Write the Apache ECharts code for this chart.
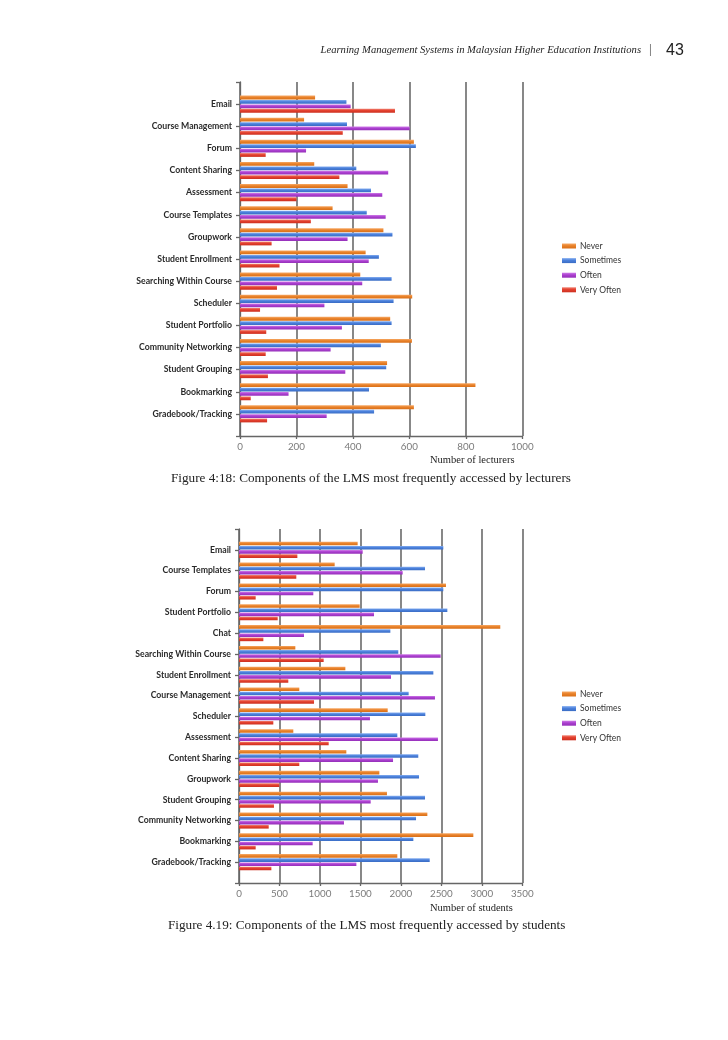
<!DOCTYPE html>
<html><head><meta charset="utf-8">
<script src="https://cdn.jsdelivr.net/npm/echarts@6/dist/echarts.min.js"></script>
<style>html,body{margin:0;padding:0;background:#fff}#c{width:728px;height:1040px}</style>
</head><body><div id="c"></div>
<script>
// ---------- Figure 4:18 (lecturers) ----------
const lecturerCategories = ['Email','Course Management','Forum','Content Sharing','Assessment','Course Templates','Groupwork','Student Enrollment','Searching Within Course','Scheduler','Student Portfolio','Community Networking','Student Grouping','Bookmarking','Gradebook/Tracking'];
const lecturerNever      = [266,227,616,263,381,328,508,445,426,610,532,609,521,834,616];
const lecturerSometimes  = [377,379,623,412,464,449,540,492,537,544,537,499,518,457,475];
const lecturerOften      = [392,601,234,525,504,516,381,456,433,299,361,321,373,172,307];
const lecturerVeryOften  = [549,364,91,352,200,251,112,140,131,71,93,91,99,38,96];
const lecturerTicks      = [0,200,400,600,800,1000];

// ---------- Figure 4.19 (students) ----------
const studentCategories = ['Email','Course Templates','Forum','Student Portfolio','Chat','Searching Within Course','Student Enrollment','Course Management','Scheduler','Assessment','Content Sharing','Groupwork','Student Grouping','Community Networking','Bookmarking','Gradebook/Tracking'];
const studentNever      = [1466,1182,2557,1491,3228,696,1314,745,1837,671,1326,1734,1828,2327,2895,1956];
const studentSometimes  = [2524,2298,2524,2574,1870,1968,2401,2096,2302,1956,2215,2224,2298,2187,2154,2356];
const studentOften      = [1528,2022,918,1668,803,2491,1878,2421,1618,2458,1903,1717,1627,1297,910,1450];
const studentVeryOften  = [721,708,206,478,301,1046,609,927,424,1108,745,498,432,367,206,400];
const studentTicks      = [0,500,1000,1500,2000,2500,3000,3500];

const seriesNames = ['Never','Sometimes','Often','Very Often'];
const baseColors = [['#f6a865','#e9822a','#d96f18'],['#86aef0','#4a80db','#3a6cc4'],['#cf7be8','#ab3fd0','#9430b8'],['#f08070','#e4402e','#cc3020']];

function grad(c){
  return new echarts.graphic.LinearGradient(0,0,0,1,[{offset:0,color:c[0]},{offset:0.45,color:c[1]},{offset:1,color:c[2]}]);
}
function pad(arr){ return ['-'].concat(arr).concat(['-']); }

const chart = echarts.init(document.getElementById('c'), null, {renderer:'canvas'});

function valueAxis(gi, max, interval){
  return {
    type:'value', gridIndex:gi, min:0, max:max, interval:interval,
    axisLine:{show:true, lineStyle:{color:'#666', width:1.3}},
    axisTick:{show:true, length:3, lineStyle:{color:'#666', width:1.3}},
    splitLine:{show:true, lineStyle:{color:'#6a6a6a', width:1.6}},
    axisLabel:{color:'#7a7a7a', fontFamily:'Lato', fontSize:9.8, margin:6, formatter:function(v){return String(v);}}
  };
}
function catAxis(gi, cats){
  return {
    type:'category', gridIndex:gi, inverse:true, boundaryGap:false,
    data:[''].concat(cats).concat(['']),
    axisLine:{show:true, lineStyle:{color:'#666', width:1.3}},
    axisTick:{show:true, length:4, interval:0, lineStyle:{color:'#666', width:1.3}},
    splitLine:{show:false},
    axisLabel:{interval:0, color:'#2a2a2a', fontFamily:'Lato', fontWeight:'bold', fontSize:8.7, margin:8}
  };
}

const lecturerData = [lecturerNever, lecturerSometimes, lecturerOften, lecturerVeryOften];
const studentData  = [studentNever, studentSometimes, studentOften, studentVeryOften];

const series = [];
lecturerData.forEach((d,i)=>{
  series.push({type:'bar', name:seriesNames[i], xAxisIndex:0, yAxisIndex:0, data:pad(d),
    barWidth:3.8, barGap:'16%', itemStyle:{color:grad(baseColors[i])}, silent:true, animation:false});
});
studentData.forEach((d,i)=>{
  series.push({type:'bar', name:seriesNames[i], xAxisIndex:1, yAxisIndex:1, data:pad(d),
    barWidth:3.6, barGap:'16%', itemStyle:{color:grad(baseColors[i])}, silent:true, animation:false});
});

const legendCommon = {
  orient:'vertical', left:557, itemWidth:14, itemHeight:5, itemGap:4.6, icon:'rect',
  textStyle:{fontFamily:'Lato', fontSize:8.5, color:'#333', lineHeight:10, padding:[0,0,0,-1]},
  data:seriesNames, selectedMode:false
};

const option = {
  animation:false,
  backgroundColor:'#fff',
  grid:[
    {left:240, top:82, width:282.3, height:354, containLabel:false, outerBoundsMode:'none'},
    {left:239, top:529, width:283.3, height:354, containLabel:false, outerBoundsMode:'none'}
  ],
  xAxis:[valueAxis(0, lecturerTicks[lecturerTicks.length-1], lecturerTicks[1]-lecturerTicks[0]),
         valueAxis(1, studentTicks[studentTicks.length-1], studentTicks[1]-studentTicks[0])],
  yAxis:[catAxis(0, lecturerCategories), catAxis(1, studentCategories)],
  legend:[
    Object.assign({}, legendCommon, {top:236}),
    Object.assign({}, legendCommon, {top:684})
  ],
  series:series,
  graphic:[
    {type:'text', right:87, top:45, style:{text:'Learning Management Systems in Malaysian Higher Education Institutions', font:'italic 10.6px "Liberation Serif"', fill:'#222'}},
    {type:'text', left:649, top:43, style:{text:'|', font:'13px "Liberation Serif"', fill:'#444'}},
    {type:'text', left:666, top:43, style:{text:'43', font:'16px "Liberation Sans"', fill:'#222'}},
    {type:'text', left:430, top:455, style:{text:'Number of lecturers', font:'10.5px "Liberation Serif"', fill:'#222'}},
    {type:'text', left:171, top:472, style:{text:'Figure 4:18: Components of the LMS most frequently accessed by lecturers', font:'13.2px "Liberation Serif"', fill:'#222'}},
    {type:'text', left:430, top:903, style:{text:'Number of students', font:'10.5px "Liberation Serif"', fill:'#222'}},
    {type:'text', left:168, top:919, style:{text:'Figure 4.19: Components of the LMS most frequently accessed by students', font:'13.2px "Liberation Serif"', fill:'#222'}}
  ]
};
chart.setOption(option);
</script>
</body></html>
